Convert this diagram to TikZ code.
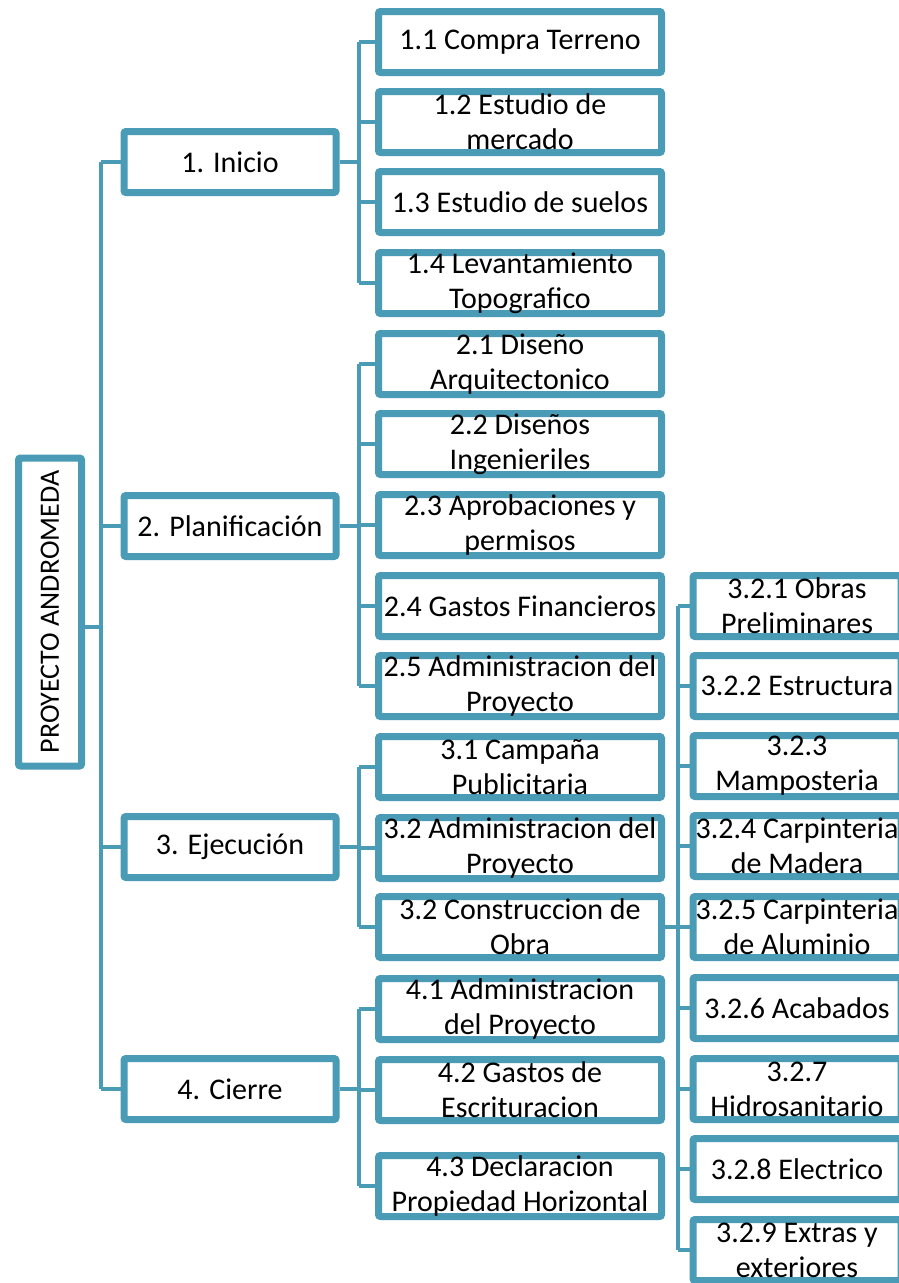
\documentclass[tikz,border=0pt]{standalone}
\usepackage{fontspec}
\setmainfont{Carlito}
\usetikzlibrary{shadows}
\definecolor{wbsblue}{RGB}{74,155,181}

\begin{document}
\begin{tikzpicture}[x=1pt,y=-1pt,
	box/.style={draw=wbsblue, line width=7pt, fill=white, rounded corners=2pt,
		align=center, inner sep=0pt, font=\fontsize{30}{35}\selectfont,
		drop shadow={opacity=0.25, shadow xshift=1pt, shadow yshift=-3pt}},
	lvlone/.style={box, minimum width=212pt, minimum height=61pt},
	lvltwo/.style={box, minimum width=283pt, minimum height=61pt},
	lvlthree/.style={box, minimum width=208pt, minimum height=61pt},
	link/.style={draw=wbsblue, line width=4pt}]
	\useasboundingbox (0,0) rectangle (899,1283);

	% root
	\node[box, minimum width=63pt, minimum height=308pt,
		font=\fontsize{28}{33}\selectfont] (root) at (50,612)
		{\rotatebox{90}{PROYECTO ANDROMEDA}};

	% phases
	\node[lvlone] (ini) at (230,162) {1. Inicio};
	\node[lvlone] (pla) at (230,526) {2. Planificación};
	\node[lvlone] (eje) at (230,847) {3. Ejecución};
	\node[lvlone] (cie) at (230,1089) {4. Cierre};

	% work packages
	\node[lvltwo] (c11) at (520,42) {1.1 Compra Terreno};
	\node[lvltwo] (c12) at (520,122) {1.2 Estudio de\\mercado};
	\node[lvltwo] (c13) at (520,202) {1.3 Estudio de suelos};
	\node[lvltwo] (c14) at (520,283) {1.4 Levantamiento\\Topografico};
	\node[lvltwo] (c21) at (520,364) {2.1 Diseño\\Arquitectonico};
	\node[lvltwo] (c22) at (520,444) {2.2 Diseños\\Ingenieriles};
	\node[lvltwo] (c23) at (520,525) {2.3 Aprobaciones y\\permisos};
	\node[lvltwo] (c24) at (520,606) {2.4 Gastos Financieros};
	\node[lvltwo] (c25) at (520,686) {2.5 Administracion del\\Proyecto};
	\node[lvltwo] (c31) at (520,767) {3.1 Campaña\\Publicitaria};
	\node[lvltwo] (c32) at (520,848) {3.2 Administracion del\\Proyecto};
	\node[lvltwo] (c33) at (520,927) {3.2 Construccion de\\Obra};
	\node[lvltwo] (c41) at (520,1009) {4.1 Administracion\\del Proyecto};
	\node[lvltwo] (c42) at (520,1090) {4.2 Gastos de\\Escrituracion};
	\node[lvltwo] (c43) at (520,1186) {4.3 Declaracion\\Propiedad Horizontal};

	% obra
	\node[lvlthree] (c321) at (797,606) {3.2.1 Obras\\Preliminares};
	\node[lvlthree] (c322) at (797,686) {3.2.2 Estructura};
	\node[lvlthree] (c323) at (797,766) {3.2.3\\Mamposteria};
	\node[lvlthree] (c324) at (797,846) {3.2.4 Carpinteria\\de Madera};
	\node[lvlthree] (c325) at (797,927) {3.2.5 Carpinteria\\de Aluminio};
	\node[lvlthree] (c326) at (797,1008) {3.2.6 Acabados};
	\node[lvlthree] (c327) at (797,1089) {3.2.7\\Hidrosanitario};
	\node[lvlthree] (c328) at (797,1169) {3.2.8 Electrico};
	\node[lvlthree] (c329) at (797,1250) {3.2.9 Extras y\\exteriores};

	% connectors
	\draw[link] ([yshift=-15pt]root.east) -- +(16,0) coordinate (s0);
	\draw[link] (s0 |- ini.west) -- (s0 |- cie.west);
	\foreach \n in {ini,pla,eje,cie}
		\draw[link] (s0 |- \n.west) -- (\n.west);

	\foreach \p/\a/\b/\kids in {ini/c11/c14/{c11,c12,c13,c14},
			pla/c21/c25/{c21,c22,c23,c24,c25},
			eje/c31/c33/{c31,c32,c33},
			cie/c41/c43/{c41,c42,c43}} {
		\draw[link] (\p.east) -- +(19,0) coordinate (s1);
		\draw[link] (s1 |- \a.west) -- (s1 |- \b.west);
		\foreach \k in \kids
			\draw[link] (s1 |- \k.west) -- (\k.west);
	}

	\draw[link] (c33.east) -- +(13,0) coordinate (s2);
	\draw[link] (s2 |- c321.west) -- (s2 |- c329.west);
	\foreach \k in {c321,c322,c323,c324,c325,c326,c327,c328,c329}
		\draw[link] (s2 |- \k.west) -- (\k.west);
\end{tikzpicture}
\end{document}
